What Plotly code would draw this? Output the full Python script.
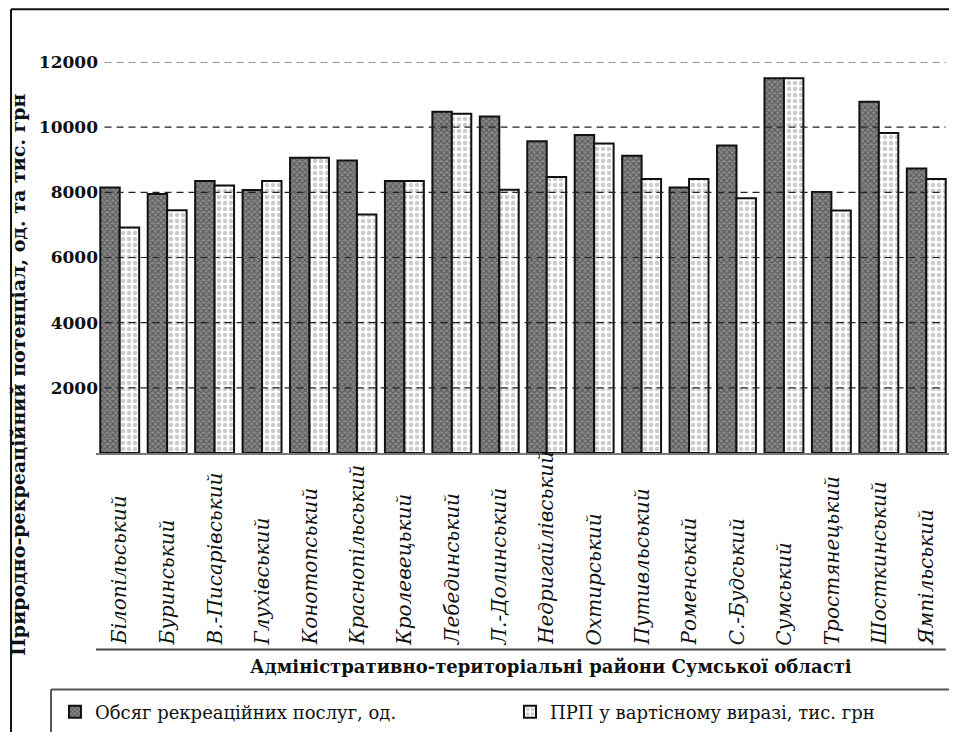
import plotly.graph_objects as go

districts = ["Білопільський", "Буринський", "В.-Писарівський", "Глухівський", "Конотопський",
             "Краснопільський", "Кролевецький", "Лебединський", "Л.-Долинський", "Недригайлівський",
             "Охтирський", "Путивльський", "Роменський", "С.-Будський", "Сумський",
             "Тростянецький", "Шосткинський", "Ямпільський"]
services = [8150, 7950, 8350, 8070, 9060, 8980, 8350, 10470, 10330, 9570,
            9760, 9120, 8150, 9440, 11500, 8010, 10780, 8730]
value_k = [6920, 7450, 8210, 8350, 9060, 7320, 8350, 10410, 8080, 8470,
           9500, 8410, 8410, 7820, 11500, 7440, 9820, 8410]
tick_vals = [2000, 4000, 6000, 8000, 10000, 12000]
tick_text = ["2000", "4000", "6000", "8000", "10000", "12000"]
name_services = "Обсяг рекреаційних послуг, од."
name_value = "ПРП у вартісному виразі, тис. грн"
y_title = "Природно-рекреаційний потенціал, од. та тис. грн"
x_title = "Адміністративно-територіальні райони Сумської області"

SERIF = "DejaVu Serif"

fig = go.Figure()
fig.add_trace(go.Bar(
    x=districts, y=services, name=name_services,
    marker=dict(color="#7a7a7a", line=dict(color="#111", width=2),
                pattern=dict(shape="x", fgcolor="#2e2e2e", bgcolor="#8a8a8a", size=4, solidity=0.5)),
))
fig.add_trace(go.Bar(
    x=districts, y=value_k, name=name_value,
    marker=dict(color="#ffffff", line=dict(color="#111", width=2),
                pattern=dict(shape=".", fgcolor="#9a9a9a", bgcolor="#ffffff", size=6, solidity=0.45)),
))

# dashed gridlines drawn above bars
for v in tick_vals:
    fig.add_shape(type="line", xref="paper", yref="y", x0=0.01, x1=0.995, y0=v, y1=v,
                  line=dict(color="#222", width=1.2, dash="7px,5px"), layer="above")

# x labels (rotated, bottom aligned)
for d in districts:
    fig.add_annotation(x=d, xref="x", yref="paper", y=-0.497, text=d, showarrow=False,
                       textangle=-90, xanchor="center", yanchor="bottom",
                       font=dict(family=SERIF, size=20, style="italic", color="#111"))

# line under labels
fig.add_shape(type="line", xref="paper", yref="paper", x0=0.0, x1=0.995, y0=-0.5026, y1=-0.5026,
              line=dict(color="#444", width=2))
# axis titles
fig.add_annotation(x=0.533, y=-0.546, xref="paper", yref="paper", text="<b>" + x_title + "</b>",
                   showarrow=False, xanchor="center", yanchor="middle",
                   font=dict(family=SERIF, size=18, color="#111"))
fig.add_annotation(x=-0.091, y=0.2, xref="paper", yref="paper", text="<b>" + y_title + "</b>",
                   showarrow=False, textangle=-90, xanchor="center", yanchor="middle",
                   font=dict(family=SERIF, size=19, color="#111"))

# frame (top and left)
fig.add_shape(type="line", xref="paper", yref="paper", x0=-0.0995, x1=1.2, y0=1.135, y1=1.135,
              line=dict(color="#111", width=2))
fig.add_shape(type="line", xref="paper", yref="paper", x0=-0.0995, x1=-0.0995, y0=1.135, y1=-1,
              line=dict(color="#111", width=2))
# legend box (top and left)
fig.add_shape(type="line", xref="paper", yref="paper", x0=-0.0527, x1=1.2, y0=-0.605, y1=-0.605,
              line=dict(color="#555", width=2))
fig.add_shape(type="line", xref="paper", yref="paper", x0=-0.0527, x1=-0.0527, y0=-0.605, y1=-1,
              line=dict(color="#555", width=2))

fig.update_layout(
    width=957, height=732,
    margin=dict(l=88, r=15, t=54, b=286),
    paper_bgcolor="white", plot_bgcolor="white",
    barmode="group", bargap=0.18, bargroupgap=0,
    showlegend=True,
    legend=dict(orientation="h", x=-0.001, xanchor="left", y=-0.658, yanchor="middle",
                font=dict(family=SERIF, size=18, color="#111"), entrywidth=410,
                bgcolor="rgba(0,0,0,0)", itemsizing="constant"),
    xaxis=dict(showticklabels=False, ticks="", showgrid=False, showline=True,
               linecolor="#777", linewidth=2, fixedrange=True),
    yaxis=dict(range=[0, 12000], tickvals=tick_vals, ticktext=tick_text, showgrid=False,
               zeroline=False, showline=False, ticks="", ticklabelstandoff=-3,
               tickfont=dict(family=SERIF, size=17, color="#111", weight="bold")),
)

fig.write_html("out.html")
